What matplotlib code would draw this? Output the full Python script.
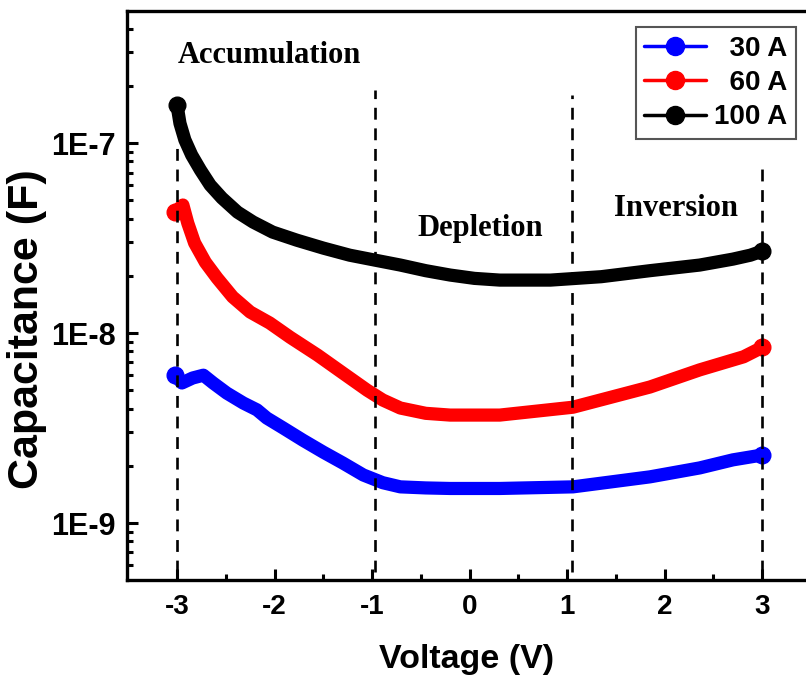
import math
import matplotlib
matplotlib.use("Agg")
import matplotlib.pyplot as plt
from matplotlib.ticker import FixedLocator, FuncFormatter, NullFormatter

# values
v_30 = [-3.02, -2.95, -2.84, -2.73, -2.63, -2.49, -2.32, -2.18, -2.08, -1.91, -1.71,
        -1.50, -1.30, -1.09, -0.89, -0.71, -0.45, -0.20, 0.31, 1.06, 1.85, 2.36, 2.70, 3.00]
c_30 = [6.0e-9, 5.46e-9, 5.8e-9, 6.0e-9, 5.46e-9, 4.83e-9, 4.28e-9, 3.94e-9, 3.57e-9,
        3.16e-9, 2.73e-9, 2.36e-9, 2.07e-9, 1.79e-9, 1.63e-9, 1.55e-9, 1.53e-9, 1.52e-9,
        1.52e-9, 1.55e-9, 1.75e-9, 1.95e-9, 2.15e-9, 2.28e-9]

v_60 = [-3.02, -2.94, -2.89, -2.82, -2.71, -2.59, -2.43, -2.25, -2.05, -1.84, -1.56,
        -1.30, -1.05, -0.89, -0.71, -0.45, -0.20, 0.31, 1.06, 1.85, 2.36, 2.81, 3.00]
c_60 = [4.33e-8, 4.72e-8, 3.79e-8, 2.98e-8, 2.36e-8, 1.95e-8, 1.55e-8, 1.29e-8, 1.13e-8,
        9.5e-9, 7.66e-9, 6.16e-9, 5.0e-9, 4.44e-9, 4.03e-9, 3.78e-9, 3.7e-9, 3.7e-9,
        4.07e-9, 5.2e-9, 6.4e-9, 7.5e-9, 8.4e-9]

v_100 = [-3.00, -2.97, -2.92, -2.85, -2.76, -2.66, -2.54, -2.38, -2.22, -2.02, -1.77,
         -1.50, -1.23, -0.97, -0.71, -0.45, -0.20, 0.05, 0.31, 0.83, 1.35, 1.85, 2.36,
         2.70, 2.88, 3.00]
c_100 = [1.58e-7, 1.27e-7, 1.04e-7, 8.65e-8, 7.21e-8, 6.01e-8, 5.14e-8, 4.33e-8, 3.84e-8,
         3.4e-8, 3.08e-8, 2.8e-8, 2.57e-8, 2.42e-8, 2.28e-8, 2.13e-8, 2.02e-8, 1.94e-8,
         1.9e-8, 1.9e-8, 1.98e-8, 2.13e-8, 2.28e-8, 2.45e-8, 2.57e-8, 2.7e-8]

labels = ["  30 A", "  60 A", "100 A"]
colors = ["#0000ff", "#ff0000", "#000000"]

# region boundaries and labels
region_x = [-3.0, -0.97, 1.05, 3.0]
region_top = [9.8e-8, 1.9e-7, 1.8e-7, 7.7e-8]
region_names = ["Accumulation", "Depletion", "Inversion"]
region_text_x = [-2.05, 0.11, 2.12]
region_text_y = [2.9e-7, 3.57e-8, 4.55e-8]

xticks = [-3, -2, -1, 0, 1, 2, 3]
yticks = [1e-9, 1e-8, 1e-7]

plt.rcParams["font.family"] = ["Liberation Sans", "DejaVu Sans"]
plt.rcParams["font.weight"] = "bold"
plt.rcParams["axes.unicode_minus"] = False

fig = plt.figure(figsize=(8.06, 6.83), dpi=100)
ax = fig.add_axes([0.1576, 0.1508, 0.8424, 0.833])

for v, c, lab, col in zip([v_30, v_60, v_100], [c_30, c_60, c_100], labels, colors):
    ax.plot(v, c, color=col, lw=9.5, solid_capstyle="round", solid_joinstyle="round",
            marker="o", markersize=12, markevery=[0, len(v) - 1],
            markerfacecolor=col, markeredgecolor=col, label=lab)

for x, top in zip(region_x, region_top):
    ax.plot([x, x], [5.5e-10, top], color="black", lw=1.9, ls=(0, (4.5, 3.3)))

for name, tx, ty in zip(region_names, region_text_x, region_text_y):
    ax.text(tx, ty, name, ha="center", va="center", fontsize=22,
            fontweight="bold", family=["Liberation Serif", "DejaVu Serif"])

ax.set_yscale("log")
ax.set_xlim(-3.513, 3.45)
ax.set_ylim(10 ** -9.3, 10 ** -6.305)
lo, hi = ax.get_ylim()

ax.xaxis.set_major_locator(FixedLocator(xticks))
ax.xaxis.set_minor_locator(FixedLocator([t + 0.5 for t in xticks[:-1]]))
ax.yaxis.set_major_locator(FixedLocator(yticks))
minor_y = [k * d for d in [1e-10] + yticks for k in range(2, 10) if lo <= k * d <= hi]
ax.yaxis.set_minor_locator(FixedLocator(minor_y))
ax.yaxis.set_major_formatter(FuncFormatter(lambda y, p: "1E%d" % round(math.log10(y))))
ax.yaxis.set_minor_formatter(NullFormatter())

ax.tick_params(which="major", direction="in", length=8, width=2.2)
ax.tick_params(which="minor", direction="in", length=4.5, width=2.2)
ax.tick_params(axis="x", which="major", labelsize=20, pad=10)
ax.tick_params(axis="y", which="major", labelsize=22, pad=8)
ax.tick_params(top=False, right=False, which="both")
for side in ["left", "bottom", "top"]:
    ax.spines[side].set_linewidth(2.4)
ax.spines["right"].set_visible(False)

ax.set_xlabel("Voltage (V)", fontsize=24.5, fontweight="bold", labelpad=17)
ax.set_ylabel("Capacitance (F)", fontsize=31, fontweight="bold")
ax.yaxis.set_label_coords(-0.118, 0.441)

leg = ax.legend(loc="upper right", bbox_to_anchor=(0.987, 0.96),
                bbox_transform=fig.transFigure, fontsize=20, handlelength=2.2,
                handletextpad=0.3, borderpad=0.3, labelspacing=0.3,
                borderaxespad=0, fancybox=False, framealpha=1, edgecolor="#555555")
leg.get_frame().set_linewidth(1.5)
for h in leg.legend_handles:
    h.set_linewidth(2.5)
    h.set_markersize(13)

fig.savefig("out.png", dpi=100)
